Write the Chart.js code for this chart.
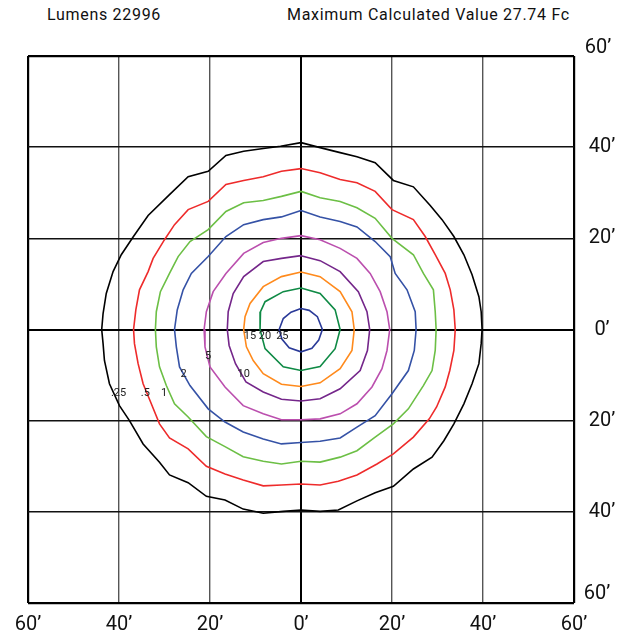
<!DOCTYPE html>
<html><head><meta charset="utf-8">
<script src="https://cdn.jsdelivr.net/npm/chart.js@4.4.0/dist/chart.umd.min.js"></script>
<style>
html,body{margin:0;padding:0;background:#fff;}
#wrap{position:relative;width:634px;height:639px;overflow:hidden;}
canvas{position:absolute;left:0;top:0;}
.hdr{position:absolute;top:5px;font-family:Roboto,"Noto Sans",sans-serif;font-size:16px;color:#111;white-space:nowrap;letter-spacing:0.7px;}
</style></head><body>
<div id="wrap">
<div class="hdr" style="left:47px">Lumens 22996</div>
<div class="hdr" style="left:287px">Maximum Calculated Value 27.74 Fc</div>
<canvas id="c" width="634" height="639"></canvas>
</div>
<script>
// ---- tick labels ----
const xTickValues = [-60, -40, -20, 0, 20, 40, 60];
const xTickLabels = ["60’", "40’", "20’", "0’", "20’", "40’", "60’"];
const yTickValues = [60, 40, 20, 0, -20, -40, -60];
const yTickLabels = ["60’", "40’", "20’", "0’", "20’", "40’", "60’"];

// ---- isofootcandle contours (feet) ----
const levels = [".25", ".5", "1", "2", "5", "10", "15", "20", "25"];
const contour025 = [[0,41.0],[-4.5,40.2],[-8.3,39.7],[-12.6,39.1],[-16.5,38.2],[-20.4,34.7],[-24.8,33.5],[-28.9,29.6],[-33.6,25.0],[-36.9,20.3],[-39.5,16.4],[-41.3,12.7],[-42.8,7.9],[-43.5,3.5],[-43.8,0],[-43.5,-3.1],[-43.2,-6.8],[-42.1,-11.9],[-39.9,-16.7],[-37.7,-20.0],[-34.7,-25.1],[-31.1,-29.1],[-28.9,-31.9],[-24.8,-33.6],[-20.8,-36.6],[-16.7,-37.4],[-12.7,-39.4],[-8.3,-40.3],[-3.9,-39.9],[0,-39.6],[4.2,-39.9],[8.2,-39.6],[12.3,-37.6],[16.3,-35.8],[20.3,-34.4],[24.7,-30.6],[28.8,-28.0],[31.4,-24.4],[33.6,-20.7],[35.8,-16.3],[37.6,-11.9],[39.1,-7.5],[39.6,-3.1],[39.8,0],[39.6,3.9],[39.1,7.2],[37.6,12.0],[35.8,16.4],[33.6,20.4],[31.0,24.1],[28.4,27.2],[24.7,31.3],[20.3,32.7],[16.3,36.6],[12.3,37.9],[8.6,38.8],[4.2,39.9],[0,41.0]];
const contour05 = [[0,35.3],[-4.3,34.7],[-8.3,33.5],[-12.6,32.7],[-16.5,31.8],[-20.4,28.1],[-24.8,26.3],[-27.8,23.0],[-30.0,19.7],[-32.5,15.6],[-33.6,12.7],[-35.5,8.7],[-36.3,4.3],[-36.8,0],[-36.6,-3.1],[-35.8,-7.5],[-34.7,-11.9],[-32.9,-16.3],[-31.1,-20.7],[-28.9,-23.8],[-24.8,-26.2],[-20.8,-30.0],[-16.7,-31.7],[-12.7,-33.0],[-8.3,-34.3],[-4.3,-34.1],[0,-33.9],[4.2,-34.1],[8.2,-33.3],[12.3,-31.9],[16.7,-29.5],[20.3,-27.3],[24.7,-23.6],[28.2,-19.6],[29.8,-17.0],[31.7,-12.6],[32.7,-9.0],[33.6,-4.6],[33.9,0],[33.6,4.3],[32.8,8.7],[31.7,12.3],[29.5,16.4],[27.3,20.4],[24.7,24.1],[20.0,26.3],[16.3,30.3],[12.3,32.2],[8.6,32.9],[4.2,34.4],[0,35.3]];
const contour1 = [[0,30.3],[-4.3,29.2],[-8.3,28.3],[-12.6,27.8],[-16.5,25.9],[-20.4,21.9],[-24.4,19.3],[-27.0,16.0],[-28.9,12.3],[-30.9,8.3],[-31.8,3.9],[-32.0,0],[-31.8,-3.8],[-31.1,-8.2],[-29.6,-12.3],[-27.8,-16.3],[-24.8,-19.2],[-20.8,-23.5],[-16.7,-25.7],[-12.7,-27.9],[-8.3,-28.9],[-4.3,-29.5],[0,-28.9],[4.2,-29.1],[8.6,-28.0],[12.3,-26.6],[16.3,-23.6],[20.3,-20.7],[23.6,-17.4],[26.9,-12.3],[28.8,-9.0],[29.5,-4.6],[29.7,0],[29.5,3.9],[29.1,8.7],[26.9,12.3],[24.7,16.4],[20.0,20.0],[16.3,24.4],[12.3,26.7],[8.6,28.1],[4.2,28.9],[0,30.3]];
const contour2 = [[0,26.1],[-4.3,24.7],[-8.3,24.1],[-12.6,23.0],[-16.5,20.4],[-20.4,16.0],[-24.1,12.3],[-25.9,8.7],[-27.2,4.3],[-27.8,0],[-27.4,-3.8],[-26.7,-8.2],[-24.4,-12.3],[-20.4,-17.4],[-16.7,-20.3],[-12.7,-22.5],[-8.3,-24.0],[-4.3,-25.1],[0,-24.8],[4.2,-24.5],[8.6,-23.8],[12.3,-21.4],[16.3,-18.9],[20.0,-14.1],[23.6,-9.0],[24.9,-4.6],[25.3,0],[25.1,3.9],[23.3,8.7],[20.7,12.3],[19.6,16.0],[16.3,19.3],[12.3,22.5],[8.6,23.7],[4.2,24.7],[0,26.1]];
const contour5 = [[0,20.6],[-4.3,20.0],[-8.3,19.1],[-12.6,16.7],[-16.5,12.3],[-19.3,8.3],[-20.8,3.9],[-21.3,0],[-21.1,-3.8],[-20.0,-8.2],[-16.7,-12.6],[-12.7,-16.7],[-8.3,-18.5],[-4.3,-19.8],[0,-19.8],[4.2,-19.6],[8.6,-18.5],[12.3,-16.3],[15.6,-12.6],[17.8,-8.6],[18.9,-4.6],[19.5,0],[18.9,3.9],[17.4,8.3],[15.2,12.3],[12.3,15.6],[8.6,17.8],[4.2,19.7],[0,20.6]];
const contour10 = [[0,16.2],[-4.3,15.6],[-8.3,14.9],[-12.6,11.6],[-14.9,7.9],[-16.0,3.9],[-16.2,0],[-15.8,-3.5],[-14.4,-7.5],[-12.1,-11.5],[-8.3,-13.7],[-4.3,-15.3],[0,-15.7],[4.2,-15.2],[8.6,-13.0],[13.0,-9.0],[14.6,-4.6],[15.1,0],[14.5,3.9],[12.6,8.3],[8.6,12.7],[4.2,15.1],[0,16.2]];
const contour15 = [[0,12.6],[-4.3,11.6],[-8.3,9.4],[-11.2,5.7],[-12.3,2.8],[-12.6,0],[-12.0,-3.8],[-10.5,-6.8],[-8.3,-9.7],[-4.3,-12.0],[0,-12.5],[4.2,-11.7],[8.6,-8.6],[11.2,-4.6],[11.7,0],[11.2,3.9],[8.6,8.3],[4.2,11.6],[0,12.6]];
const contour20 = [[0,9.1],[-3.9,8.3],[-7.9,6.1],[-8.9,3.9],[-9.0,0],[-7.9,-4.2],[-3.9,-8.2],[0,-9.0],[4.2,-8.1],[7.5,-4.2],[8.6,0],[7.5,4.3],[4.2,7.9],[0,9.1]];
const contour25 = [[0,4.6],[-2.2,3.8],[-3.9,2.4],[-4.8,0],[-4.2,-2.1],[-2.6,-4.0],[0,-4.9],[2.4,-4.1],[3.9,-2.3],[4.7,0],[3.6,2.8],[1.8,4.2],[0,4.6]];

// ---- level label anchor points (feet) ----
const labelX = [-40.1, -34.2, -30.1, -25.8, -20.4, -12.6, -11.2, -7.9, -4.1];
const labelY = [-14.0, -14.0, -14.0, -9.8, -5.8, -9.8, -1.5, -1.5, -1.5];

const contours = [contour025, contour05, contour1, contour2, contour5, contour10, contour15, contour20, contour25];
const colors = ["#000000", "#ee2b2b", "#6cbf45", "#3552a6", "#bb4fae", "#74268a", "#ff8a1c", "#0f8a45", "#2a3a98"];

const datasets = contours.map((pts, i) => ({
  label: levels[i],
  data: pts.map(p => ({x: p[0], y: p[1]})),
  showLine: true,
  borderColor: colors[i],
  borderWidth: 1.6,
  pointRadius: 0,
  fill: false,
  tension: 0
}));

const labelsPlugin = {
  id: 'customText',
  afterDraw(chart) {
    const {ctx, scales: {x, y}, chartArea} = chart;
    ctx.save();
    ctx.fillStyle = '#111';
    ctx.font = '20px Roboto, "Noto Sans", sans-serif';
    ctx.textBaseline = 'middle';
    ctx.textAlign = 'center';
    xTickValues.forEach((v, i) => {
      ctx.fillText(xTickLabels[i], x.getPixelForValue(v), chartArea.bottom + 22);
    });
    yTickValues.forEach((v, i) => {
      let py = y.getPixelForValue(v);
      let px = chartArea.right + 28;
      if (v === 60) { py -= 8; px -= 4; }
      if (v === -60) { py -= 9; px -= 5; }
      ctx.fillText(yTickLabels[i], px, py);
    });
    ctx.font = '11px Roboto, "Noto Sans", sans-serif';
    ctx.fillStyle = '#222';
    levels.forEach((t, i) => {
      ctx.fillText(t, x.getPixelForValue(labelX[i]), y.getPixelForValue(labelY[i]));
    });
    ctx.restore();
  }
};

function gridStyle(vertical) {
  return {
    drawTicks: false,
    color: c => {
      const v = c.tick ? c.tick.value : 1;
      if (v === 0 || Math.abs(v) === 60) return '#000';
      return vertical ? '#555' : '#111';
    },
    lineWidth: c => {
      const v = c.tick ? c.tick.value : 1;
      if (Math.abs(v) === 60) return 2.2;
      if (v === 0) return 2;
      return 1.4;
    }
  };
}

new Chart(document.getElementById('c'), {
  type: 'scatter',
  data: { datasets },
  options: {
    responsive: false,
    animation: false,
    layout: { padding: { left: 28, top: 56, right: 60, bottom: 36 } },
    plugins: { legend: { display: false }, tooltip: { enabled: false } },
    scales: {
      x: {
        type: 'linear', min: -60, max: 60,
        ticks: { stepSize: 20, display: false },
        grid: gridStyle(true),
        border: { display: false }
      },
      y: {
        type: 'linear', position: 'right', min: -60, max: 60,
        ticks: { stepSize: 20, display: false },
        grid: gridStyle(false),
        border: { display: false }
      }
    }
  },
  plugins: [labelsPlugin]
});
</script>
</body></html>
